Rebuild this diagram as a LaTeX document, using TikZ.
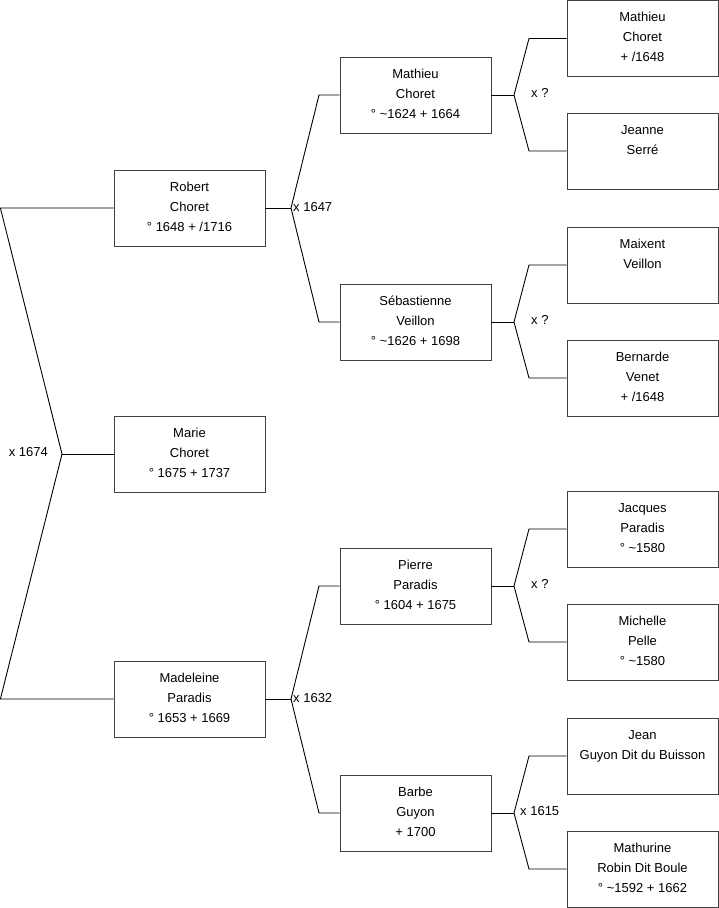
\documentclass[tikz,border=0pt]{standalone}
\usepackage{fontspec}
\setmainfont{Liberation Sans}
\newcommand\ttop{\rule{0pt}{13pt}}
\newcommand\tbot{\rule[-7pt]{0pt}{7pt}}
\begin{document}
\begin{tikzpicture}[x=1pt,y=-1pt,
  box/.style={draw=black!75, line width=0.9pt, minimum width=151pt, minimum height=76pt,
    inner sep=0pt, align=center, font=\fontsize{13}{20}\selectfont},
  conn/.style={draw=black, line width=0.9pt},
  mlabel/.style={font=\fontsize{13}{16}\selectfont, inner sep=0pt}]
\useasboundingbox (0,0) rectangle (719,908);
% generation 1
\node[box] (robert) at (189.5,208) {\ttop Robert\\Choret\\° 1648 + /1716\tbot};
\node[box] (marie) at (189.5,454) {\ttop Marie\\Choret\\° 1675 + 1737\tbot};
\node[box] (madeleine) at (189.5,699) {\ttop Madeleine\\Paradis\\° 1653 + 1669\tbot};
% generation 2
\node[box] (mathieu) at (415.5,95) {\ttop Mathieu\\Choret\\° \textasciitilde 1624 + 1664\tbot};
\node[box] (sebastienne) at (415.5,322) {\ttop Sébastienne\\Veillon\\° \textasciitilde 1626 + 1698\tbot};
\node[box] (pierre) at (415.5,586) {\ttop Pierre\\Paradis\\° 1604 + 1675\tbot};
\node[box] (barbe) at (415.5,813) {\ttop Barbe\\Guyon\\+ 1700\tbot};
% generation 3
\node[box] (g1) at (642.5,38.5) {\ttop Mathieu\\Choret\\+ /1648\tbot};
\node[box] (g2) at (642.5,151) {\ttop Jeanne\\Serré\\\tbot};
\node[box] (g3) at (642.5,265) {\ttop Maixent\\Veillon\\\tbot};
\node[box] (g4) at (642.5,378) {\ttop Bernarde\\Venet\\+ /1648\tbot};
\node[box] (g5) at (642.5,529) {\ttop Jacques\\Paradis\\° \textasciitilde 1580\tbot};
\node[box] (g6) at (642.5,642) {\ttop Michelle\\Pelle\\° \textasciitilde 1580\tbot};
\node[box] (g7) at (642.5,756) {\ttop Jean\\Guyon Dit du Buisson\\\tbot};
\node[box] (g8) at (642.5,869) {\ttop Mathurine\\Robin Dit Boule\\° \textasciitilde 1592 + 1662\tbot};
% junction coordinates
\coordinate (a0) at (0.4,208);
\coordinate (a1) at (0.4,699);
\coordinate (j0) at (62,454);
\coordinate (j1) at (291,208);
\coordinate (k1) at (319,95);
\coordinate (k2) at (319,322);
\coordinate (j2) at (291,699);
\coordinate (k3) at (319,586);
\coordinate (k4) at (319,813);
\coordinate (j3) at (514,95);
\coordinate (l1) at (529,38.5);
\coordinate (l2) at (529,151);
\coordinate (j4) at (514,322);
\coordinate (l3) at (529,265);
\coordinate (l4) at (529,378);
\coordinate (j5) at (514,586);
\coordinate (l5) at (529,529);
\coordinate (l6) at (529,642);
\coordinate (j6) at (514,813);
\coordinate (l7) at (529,756);
\coordinate (l8) at (529,869);
% connectors
\draw[conn] (robert.west) -- (a0) -- (j0) -- (a1) -- (madeleine.west);
\draw[conn] (j0) -- (marie.west);
\draw[conn] (robert.east) -- (j1);
\draw[conn] (mathieu.west) -- (k1) -- (j1) -- (k2) -- (sebastienne.west);
\draw[conn] (madeleine.east) -- (j2);
\draw[conn] (pierre.west) -- (k3) -- (j2) -- (k4) -- (barbe.west);
\draw[conn] (mathieu.east) -- (j3);
\draw[conn] (g1.west) -- (l1) -- (j3) -- (l2) -- (g2.west);
\draw[conn] (sebastienne.east) -- (j4);
\draw[conn] (g3.west) -- (l3) -- (j4) -- (l4) -- (g4.west);
\draw[conn] (pierre.east) -- (j5);
\draw[conn] (g5.west) -- (l5) -- (j5) -- (l6) -- (g6.west);
\draw[conn] (barbe.east) -- (j6);
\draw[conn] (g7.west) -- (l7) -- (j6) -- (l8) -- (g8.west);
% marriage labels
\node[mlabel, anchor=east] (m0) at (48,452) {x 1674};
\node[mlabel, anchor=west] (m1) at (293,207) {x 1647};
\node[mlabel, anchor=west] (m2) at (293,698) {x 1632};
\node[mlabel, anchor=west] (m3) at (531,93) {x ?};
\node[mlabel, anchor=west] (m4) at (531,320) {x ?};
\node[mlabel, anchor=west] (m5) at (531,584) {x ?};
\node[mlabel, anchor=west] (m6) at (520,811) {x 1615};
\end{tikzpicture}
\end{document}
